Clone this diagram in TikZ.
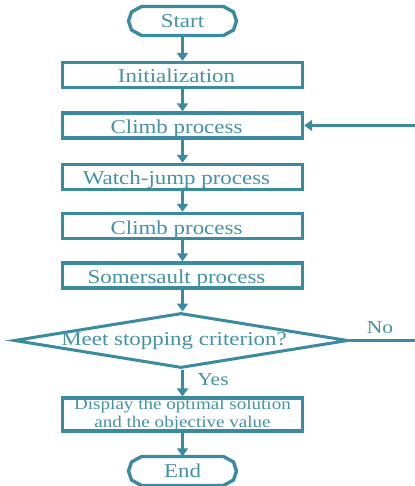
\documentclass[tikz,border=0pt]{standalone}
\usepackage{fontspec}
\setmainfont[FakeStretch=1.17]{Liberation Serif}
\usetikzlibrary{arrows.meta,shapes.geometric}
\definecolor{ln}{RGB}{58,138,160}
\definecolor{tx}{RGB}{68,146,166}
\newcommand{\fmain}{\fontsize{19.6}{21}\selectfont}
\newcommand{\fsmall}{\fontsize{16.3}{18}\selectfont}
\newcommand{\flab}{\fontsize{18.4}{20}\selectfont}
\newcommand{\termpath}{(-41,-14.5) -- (41,-14.5) -- (51,-9) -- (54,0) -- (51,9) -- (41,14.5) -- (-41,14.5) -- (-51,9) -- (-54,0) -- (-51,-9) -- cycle}
\begin{document}
\begin{tikzpicture}[x=1pt,y=-1pt,
  boxd/.style={draw=ln, line width=3.4pt, minimum width=240pt, minimum height=25pt, inner sep=0pt, text=tx, font=\fmain},
  box/.style={boxd, text height=19pt, text depth=3pt, execute at begin node={\hspace*{-12pt}}},
  term/.style={minimum width=108pt, minimum height=29pt, inner sep=0pt, text=tx, font=\fmain},
  outl/.style={draw=ln, line width=3.4pt, line join=round},
  dia/.style={draw=ln, line width=3pt, diamond, minimum width=334pt, minimum height=55pt, inner sep=0pt},
  txt/.style={text=tx, font=\fmain, inner sep=0pt},
  lab/.style={text=tx, font=\flab, inner sep=0pt},
  arr/.style={draw=ln, line width=3pt, -{Triangle[width=11pt,length=8pt]}}]
\useasboundingbox (0,0) rectangle (414,486);
\node[term] (start) at (182.5,21) {Start};
\draw[outl, shift={(start.center)}] \termpath;
\node[box] (init) at (182.5,75) {Initialization};
\node[box] (c1) at (182.5,125.5) {Climb process};
\node[box] (wj) at (182.5,177) {Watch-jump process};
\node[box] (c2) at (182.5,226) {Climb process};
\node[box] (som) at (182.5,275.5) {Somersault process};
\node[dia] (dec) at (181,340.5) {};
\node[txt] (dect) at (174,341) {Meet stopping criterion?};
\node[boxd, minimum height=30pt, align=center, font=\fsmall] (disp) at (182.5,414.5) {Display the optimal solution\\and the objective value};
\node[term] (end) at (182.5,471) {End};
\draw[outl, shift={(end.center)}] \termpath;
\node[lab] (yes) at (213,380) {Yes};
\node[lab] (no) at (380,328) {No};
\coordinate (nr) at (430,340.5);
\draw[arr] (start) -- (init);
\draw[arr] (init) -- (c1);
\draw[arr] (c1) -- (wj);
\draw[arr] (wj) -- (c2);
\draw[arr] (c2) -- (som);
\draw[arr] (som.south) -- (som.south |- dec.north);
\draw[arr] (dec.south -| disp.north) -- (disp.north);
\draw[arr] (disp) -- (end);
\draw[arr] (dec.east) -- (nr) |- (c1.east);
\end{tikzpicture}
\end{document}
